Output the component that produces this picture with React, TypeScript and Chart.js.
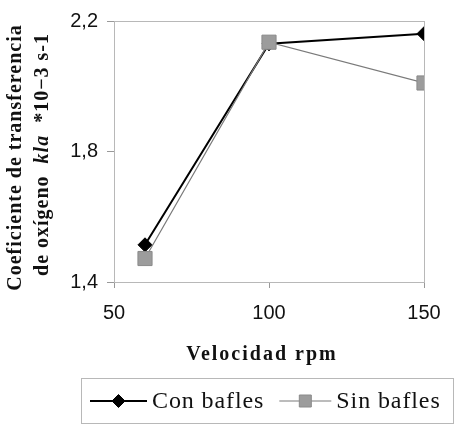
import React, { useEffect, useRef } from "react";
import { Chart, registerables } from "chart.js";

Chart.register(...registerables);

const velocidad = [60, 100, 150];
const conBafles = [1.514, 2.13, 2.161];
const sinBafles = [1.472, 2.135, 2.01];
const seriesNames = ["Con bafles", "Sin bafles"];
const yTitleLine1 = "Coeficiente de transferencia";
const yTitleLine2Parts = [
  { text: "de oxígeno  ", italic: false },
  { text: "kla", italic: true },
  { text: "  *10\u22123 s-1", italic: false },
];
const xTitle = "Velocidad rpm";

const SERIF = '"Liberation Serif", "Times New Roman", serif';
const SANS = '"Liberation Sans", Arial, sans-serif';

const decorPlugin = {
  id: "decor",
  beforeDatasetsDraw(chart: any) {
    const { ctx, chartArea } = chart;
    ctx.save();
    ctx.strokeStyle = "#b8b8b8";
    ctx.lineWidth = 1;
    ctx.strokeRect(
      Math.round(chartArea.left) + 0.5,
      Math.round(chartArea.top) + 0.5,
      Math.round(chartArea.right - chartArea.left),
      Math.round(chartArea.bottom - chartArea.top)
    );
    ctx.restore();
  },
  afterDraw(chart: any) {
    const { ctx, chartArea } = chart;
    const midY = (chartArea.top + chartArea.bottom) / 2 + 6;

    // Y axis title (two lines, rotated)
    ctx.save();
    ctx.fillStyle = "#111";
    ctx.textBaseline = "middle";
    ctx.translate(16, midY);
    ctx.rotate(-Math.PI / 2);
    ctx.font = `bold 20px ${SERIF}`;
    (ctx as any).letterSpacing = "1px";
    ctx.textAlign = "center";
    ctx.fillText(yTitleLine1, 0, 0);
    // second line with mixed style
    let total = 0;
    const widths: number[] = [];
    yTitleLine2Parts.forEach((p) => {
      ctx.font = `${p.italic ? "italic " : ""}bold 20px ${SERIF}`;
      const w = ctx.measureText(p.text).width;
      widths.push(w);
      total += w;
    });
    ctx.textAlign = "left";
    let x = -total / 2 + 3;
    yTitleLine2Parts.forEach((p, i) => {
      ctx.font = `${p.italic ? "italic " : ""}bold 20px ${SERIF}`;
      ctx.fillText(p.text, x, 27);
      x += widths[i];
    });
    ctx.restore();

    // X axis title
    ctx.save();
    ctx.fillStyle = "#111";
    ctx.font = `bold 20px ${SERIF}`;
    (ctx as any).letterSpacing = "2px";
    ctx.textAlign = "center";
    ctx.textBaseline = "middle";
    ctx.fillText(xTitle, (chartArea.left + chartArea.right) / 2 - 7, 355);
    ctx.restore();

    // Legend
    ctx.save();
    ctx.strokeStyle = "#b8b8b8";
    ctx.lineWidth = 1;
    ctx.strokeRect(81.5, 378.5, 372, 45);
    const ly = 401;
    let lx = 90;
    ctx.font = `24px ${SERIF}`;
    (ctx as any).letterSpacing = "0.9px";
    ctx.textBaseline = "middle";
    ctx.textAlign = "left";
    chart.data.datasets.forEach((ds: any, i: number) => {
      const len = i === 0 ? 57 : 52;
      ctx.beginPath();
      ctx.strokeStyle = ds.borderColor;
      ctx.lineWidth = ds.borderWidth;
      ctx.moveTo(lx, ly);
      ctx.lineTo(lx + len, ly);
      ctx.stroke();
      ctx.save();
      ctx.fillStyle = ds.pointBackgroundColor;
      ctx.strokeStyle = ds.pointBorderColor;
      ctx.lineWidth = 1;
      const cx = lx + len / 2;
      ctx.beginPath();
      if (ds.pointStyle === "rectRot") {
        const r = 6.5;
        ctx.moveTo(cx - r, ly);
        ctx.lineTo(cx, ly - r);
        ctx.lineTo(cx + r, ly);
        ctx.lineTo(cx, ly + r);
        ctx.closePath();
      } else {
        const s = 6;
        ctx.rect(cx - s, ly - s, 2 * s, 2 * s);
      }
      ctx.fill();
      ctx.stroke();
      ctx.restore();
      ctx.fillStyle = "#111";
      const tx = lx + len + 5;
      ctx.fillText(ds.label, tx, ly + 1);
      lx = tx + ctx.measureText(ds.label).width + 15;
    });
    ctx.restore();
  },
};

export default function App() {
  const ref = useRef<HTMLCanvasElement | null>(null);
  useEffect(() => {
    if (!ref.current) return;
    const chart = new Chart(ref.current, {
      type: "line",
      data: {
        datasets: [
          {
            label: seriesNames[0],
            data: velocidad.map((v, i) => ({ x: v, y: conBafles[i] })),
            borderColor: "#000000",
            borderWidth: 2,
            pointStyle: "rectRot",
            pointRadius: 7,
            pointBackgroundColor: "#000000",
            pointBorderColor: "#000000",
            pointBorderWidth: 1,
            order: 1,
          },
          {
            label: seriesNames[1],
            data: velocidad.map((v, i) => ({ x: v, y: sinBafles[i] })),
            borderColor: "#7a7a7a",
            borderWidth: 1.2,
            pointStyle: "rect",
            pointRadius: 10,
            pointBackgroundColor: "#9c9c9c",
            pointBorderColor: "#8a8a8a",
            pointBorderWidth: 1,
            order: 0,
          },
        ] as any,
      },
      options: {
        responsive: false,
        animation: false,
        devicePixelRatio: 1,
        layout: { padding: { left: 0, top: 16, right: 31, bottom: 0 } },
        plugins: {
          legend: { display: false },
          tooltip: { enabled: false },
        },
        scales: {
          x: {
            type: "linear",
            min: 50,
            max: 150,
            afterFit: (s: any) => {
              s.height = 144;
            },
            ticks: {
              stepSize: 50,
              color: "#111",
              font: { family: SANS, size: 20 },
              padding: 13,
              maxRotation: 0,
            },
            grid: {
              drawOnChartArea: false,
              drawTicks: true,
              tickLength: 6,
              color: "#999",
            },
            border: { color: "#999" },
            title: { display: false },
          },
          y: {
            min: 1.4,
            max: 2.2,
            afterFit: (s: any) => {
              s.width = 114;
            },
            ticks: {
              stepSize: 0.4,
              color: "#111",
              font: { family: SANS, size: 20 },
              padding: 9,
              callback: (v: any) => Number(v).toFixed(1).replace(".", ","),
            },
            grid: {
              drawOnChartArea: false,
              drawTicks: true,
              tickLength: 7,
              color: "#999",
            },
            border: { color: "#999" },
            title: { display: false },
          },
        },
      } as any,
      plugins: [decorPlugin],
    });
    return () => chart.destroy();
  }, []);
  return (
    <div style={{ position: "fixed", left: 0, top: 0, width: 455, height: 426, background: "#fff" }}>
      <canvas ref={ref} width={455} height={426} style={{ display: "block" }} />
    </div>
  );
}
